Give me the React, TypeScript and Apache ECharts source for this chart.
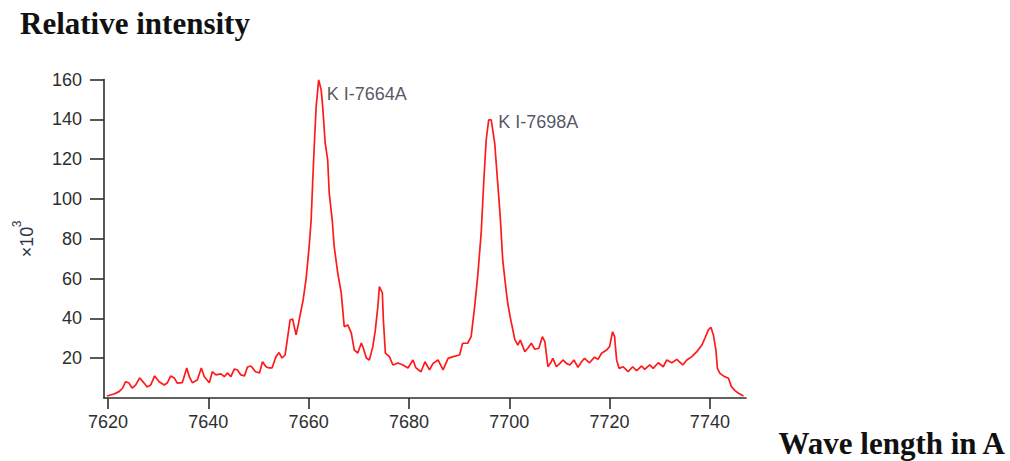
import React, { useEffect, useRef } from "react";
import * as echarts from "echarts";

const wavelengths = [
  7619.8, 7621.2, 7622.2, 7622.9, 7623.5, 7624.2, 7624.8, 7625.5, 7626.3, 7627.2,
  7627.8, 7628.5, 7629.3, 7630.2, 7631.2, 7631.8, 7632.5, 7633.2, 7633.8, 7634.8,
  7635.7, 7636.2, 7636.8, 7637.8, 7638.6, 7639.2, 7640.2, 7640.8, 7641.5, 7642.5,
  7643.2, 7643.8, 7644.5, 7645.2, 7645.8, 7646.5, 7647.2, 7647.8, 7648.5, 7649.4,
  7650.2, 7650.8, 7651.5, 7652.1, 7652.7, 7653.5, 7654.1, 7654.7, 7655.3, 7655.8,
  7656.3, 7656.8, 7657.5, 7658.0, 7658.5, 7658.9, 7659.5, 7660.1, 7660.5, 7660.8,
  7661.1, 7661.5, 7662.0, 7662.5, 7662.8, 7663.3, 7663.8, 7664.1, 7664.7, 7665.1,
  7665.8, 7666.5, 7667.1, 7667.8, 7668.5, 7669.1, 7669.8, 7670.5, 7670.9, 7671.5,
  7672.1, 7672.8, 7673.3, 7673.8, 7674.1, 7674.7, 7674.9, 7675.3, 7676.1, 7676.8,
  7677.8, 7678.8, 7679.8, 7680.8, 7681.4, 7682.4, 7683.2, 7684.1, 7684.8, 7685.8,
  7686.8, 7687.8, 7688.8, 7690.1, 7690.7, 7691.7, 7692.4, 7693.1, 7693.7, 7694.4,
  7694.9, 7695.4, 7695.9, 7696.4, 7697.1, 7697.7, 7698.2, 7698.7, 7699.4, 7699.7,
  7700.2, 7701.1, 7701.7, 7702.2, 7703.1, 7703.7, 7704.4, 7705.1, 7705.9, 7706.6,
  7707.1, 7707.7, 7708.2, 7708.7, 7709.4, 7710.1, 7710.7, 7711.4, 7712.1, 7712.9,
  7713.7, 7714.4, 7715.0, 7716.0, 7717.0, 7717.7, 7718.4, 7719.4, 7720.0, 7720.6,
  7721.0, 7721.4, 7721.9, 7722.7, 7723.7, 7724.6, 7725.4, 7726.4, 7727.0, 7728.0,
  7728.7, 7729.7, 7730.7, 7731.4, 7732.4, 7733.4, 7734.6, 7735.4, 7736.4, 7737.4,
  7738.4, 7739.0, 7739.7, 7740.2, 7740.7, 7741.2, 7741.5, 7742.0, 7742.7, 7743.7,
  7744.3, 7745.0, 7745.7, 7746.7,
];

const intensities = [
  1.0, 2.0, 3.2, 4.9, 8.2, 7.5, 5.0, 6.5, 10.1, 7.5,
  5.5, 6.5, 11.1, 8.2, 6.5, 7.5, 11.1, 10.1, 7.5, 7.7,
  15.1, 10.7, 7.7, 9.0, 15.1, 10.7, 7.7, 13.2, 11.6, 12.1,
  10.7, 12.6, 10.7, 14.6, 14.1, 11.6, 11.1, 15.6, 16.1, 13.2,
  12.6, 18.2, 15.7, 15.1, 15.1, 20.8, 22.8, 20.1, 21.6, 30.2,
  39.2, 39.7, 31.7, 37.7, 44.2, 49.2, 60.0, 76.0, 89.4, 108.0,
  125.6, 146.4, 159.8, 154.8, 146.4, 128.1, 119.6, 103.0, 89.4, 76.0,
  62.8, 52.8, 35.8, 36.7, 32.7, 24.1, 22.6, 27.6, 25.1, 20.1,
  19.1, 25.8, 34.2, 45.9, 55.9, 52.8, 39.2, 22.6, 20.8, 16.6,
  17.6, 16.6, 15.1, 19.1, 15.1, 13.2, 18.2, 14.1, 17.4, 19.1,
  14.1, 19.9, 20.8, 21.6, 27.5, 27.5, 30.8, 45.9, 61.0, 82.8,
  107.9, 129.6, 139.7, 139.7, 128.0, 107.9, 91.1, 69.3, 53.5, 47.6,
  40.5, 29.5, 26.6, 29.1, 23.3, 25.0, 27.5, 24.5, 25.0, 30.8,
  28.3, 15.7, 17.4, 19.9, 15.7, 17.4, 19.1, 17.4, 16.6, 19.1,
  15.4, 18.2, 19.9, 17.7, 20.5, 19.4, 22.5, 24.1, 25.8, 33.3,
  30.8, 19.1, 14.9, 15.7, 13.2, 15.7, 13.7, 16.1, 14.4, 16.6,
  14.9, 17.7, 15.7, 19.1, 17.7, 19.4, 16.6, 19.1, 20.8, 23.3,
  26.6, 30.0, 34.2, 35.5, 31.7, 24.1, 14.9, 12.4, 11.1, 9.9,
  5.7, 3.7, 2.4, 1.0,
];

const xTicks = [7620, 7640, 7660, 7680, 7700, 7720, 7740];
const yTicks = [20, 40, 60, 80, 100, 120, 140, 160];

const peakNames = ["K I-7664A", "K I-7698A"];
const peakLabelW = [7663.6, 7697.8];
const peakLabelV = [152.8, 138.4];

const titleText = "Relative intensity";
const xTitleText = "Wave length in A";

export default function App() {
  const ref = useRef<HTMLDivElement>(null);

  useEffect(() => {
    document.body.style.margin = "0";
    const chart = echarts.init(ref.current as HTMLDivElement, null, { renderer: "svg" });
    const axisColor = "#2e2e2e";
    const labelFont = "Liberation Sans, Arial, sans-serif";
    const serifBold = "bold 31px 'Liberation Serif', 'Times New Roman', serif";
    chart.setOption({
      animation: false,
      backgroundColor: "#ffffff",
      grid: { left: 104, right: 264, top: 79.5, bottom: 63 },
      xAxis: {
        type: "value",
        min: 7619.2,
        max: 7747.2,
        offset: 2,
        axisLine: { show: true, lineStyle: { color: axisColor, width: 1.6 } },
        axisTick: { show: true, length: 11, customValues: xTicks, lineStyle: { color: axisColor, width: 1.6 } },
        axisLabel: {
          customValues: xTicks,
          margin: 13,
          fontSize: 18,
          color: axisColor,
          fontFamily: labelFont,
          formatter: (v: number) => String(v),
        },
        splitLine: { show: false },
      },
      yAxis: {
        type: "value",
        min: 0,
        max: 160,
        axisLine: { show: true, lineStyle: { color: axisColor, width: 1.6 } },
        axisTick: { show: true, length: 14, customValues: yTicks, lineStyle: { color: axisColor, width: 1.6 } },
        axisLabel: {
          customValues: yTicks,
          margin: 22,
          fontSize: 18,
          color: axisColor,
          fontFamily: labelFont,
          formatter: (v: number) => String(v),
        },
        splitLine: { show: false },
      },
      series: [
        {
          type: "line",
          data: wavelengths.map((w, i) => [w, intensities[i]]),
          showSymbol: false,
          symbol: "none",
          lineStyle: { color: "#ff1a1a", width: 1.7 },
          z: 3,
        },
        {
          type: "scatter",
          data: peakNames.map((n, i) => ({ name: n, value: [peakLabelW[i], peakLabelV[i]] })),
          symbolSize: 0,
          label: {
            show: true,
            position: "right",
            distance: 0,
            formatter: "{b}",
            fontSize: 18,
            color: "#2a2a3a",
            fontFamily: labelFont,
          },
          z: 4,
        },
      ],
      graphic: [
        {
          type: "text",
          x: 20,
          y: 23,
          style: {
            text: titleText,
            font: serifBold,
            fill: "#111111",
            align: "left",
            verticalAlign: "middle",
          },
        },
        {
          type: "text",
          x: 1005,
          y: 443,
          style: {
            text: xTitleText,
            font: serifBold,
            fill: "#111111",
            align: "right",
            verticalAlign: "middle",
          },
        },
        {
          type: "text",
          x: 27,
          y: 242,
          rotation: Math.PI / 2,
          style: {
            text: "×10",
            font: "18px 'Liberation Sans', Arial, sans-serif",
            fill: "#33334a",
            align: "center",
            verticalAlign: "middle",
          },
        },
        {
          type: "text",
          x: 17,
          y: 224,
          rotation: Math.PI / 2,
          style: {
            text: "3",
            font: "12px 'Liberation Sans', Arial, sans-serif",
            fill: "#33334a",
            align: "center",
            verticalAlign: "middle",
          },
        },
      ],
    });
    return () => chart.dispose();
  }, []);

  return <div ref={ref} style={{ width: 1010, height: 461 }} />;
}
